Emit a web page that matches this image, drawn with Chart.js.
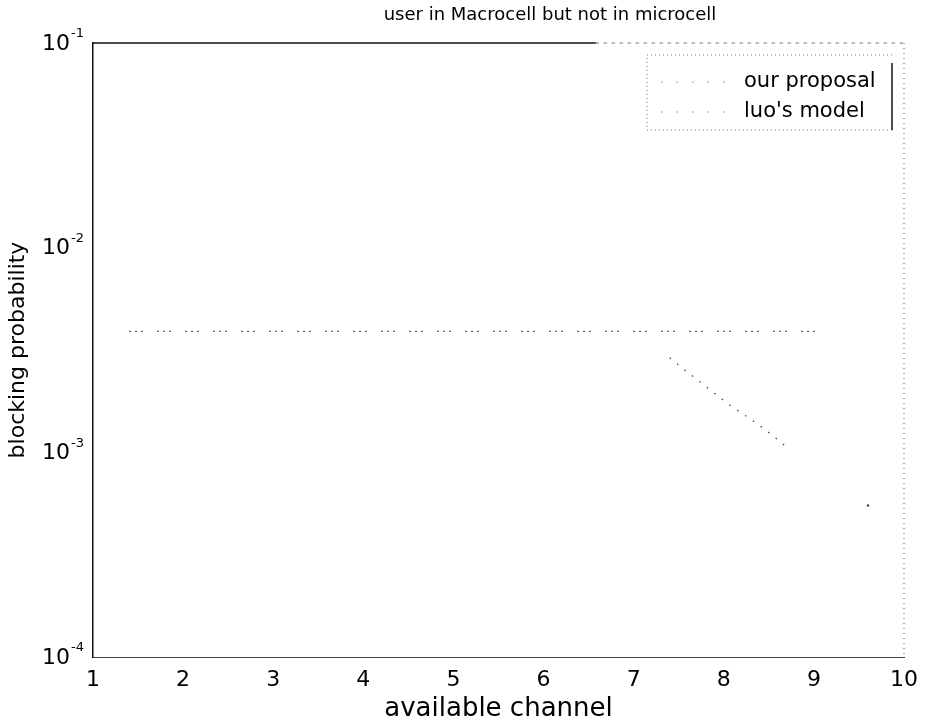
<!DOCTYPE html>
<html><head><meta charset="utf-8">
<script src="https://cdn.jsdelivr.net/npm/chart.js@4"></script>
<style>html,body{margin:0;padding:0;background:#fff}#wrap{width:928px;height:726px;position:relative}</style>
</head><body><div id="wrap"><canvas id="c"></canvas></div>
<script>
// ---- data ----
const chartTitle = 'user in Macrocell but not in microcell';
const xAxisLabel = 'available channel';
const yAxisLabel = 'blocking probability';
const xTicks = [1, 2, 3, 4, 5, 6, 7, 8, 9, 10];
const yTicks = [1e-4, 1e-3, 1e-2, 1e-1];
const yTickExponents = ['-4', '-3', '-2', '-1'];
const seriesNames = ['our proposal', "luo's model"];
const ourX = [1.4, 9.05];
const ourY = [0.0039, 0.0039];
const luoX = [7.4, 7.58, 7.8, 8.05, 8.29, 8.46, 8.56, 8.71, 9.2, 9.6];
const luoY = [0.0029, 0.0025, 0.0021, 0.00172, 0.00146, 0.00129, 0.00119, 0.00105, null, 0.00055];

const FONT = "'DejaVu Sans', 'Liberation Sans', sans-serif";
const toPts = (xs, ys) => xs.map((x, i) => ({x: x, y: ys[i]}));

const framePlugin = {
  id: 'frame',
  afterDraw(chart) {
    const {ctx, chartArea: a} = chart;
    const ys = chart.scales.y;
    ctx.save();
    // title (sits right of centre in the scan)
    ctx.fillStyle = '#000'; ctx.font = '18px ' + FONT;
    ctx.textAlign = 'center'; ctx.textBaseline = 'middle';
    ctx.fillText(chartTitle, 550, 15);
    // y tick labels: 10 with a raised exponent
    yTicks.forEach((v, i) => {
      const py = ys.getPixelForValue(v);
      ctx.font = '13px ' + FONT; ctx.textAlign = 'right'; ctx.textBaseline = 'middle';
      const ew = ctx.measureText(yTickExponents[i]).width;
      ctx.fillText(yTickExponents[i], a.left - 9, py - 9);
      ctx.font = '22px ' + FONT;
      ctx.fillText('10', a.left - 10 - ew, py + 1);
    });
    // top edge: solid on the left, faded on the right
    ctx.strokeStyle = '#111'; ctx.lineWidth = 1.5; ctx.setLineDash([]);
    ctx.beginPath(); ctx.moveTo(a.left, a.top); ctx.lineTo(a.left + 0.62 * (a.right - a.left), a.top); ctx.stroke();
    ctx.strokeStyle = '#666'; ctx.lineWidth = 1; ctx.setLineDash([3, 5]);
    ctx.beginPath(); ctx.moveTo(a.left + 0.62 * (a.right - a.left), a.top); ctx.lineTo(a.right, a.top); ctx.stroke();
    // right edge (faded in the scan)
    ctx.strokeStyle = '#555'; ctx.lineWidth = 1; ctx.setLineDash([1, 4]);
    ctx.beginPath(); ctx.moveTo(a.right, a.top); ctx.lineTo(a.right, a.bottom); ctx.stroke();
    // legend box
    const bx = 647, by = 55, bw = 245, bh = 75;
    ctx.setLineDash([1, 3]); ctx.strokeStyle = '#777';
    ctx.beginPath();
    ctx.moveTo(bx + bw, by); ctx.lineTo(bx, by); ctx.lineTo(bx, by + bh); ctx.lineTo(bx + bw, by + bh);
    ctx.stroke();
    ctx.setLineDash([]); ctx.strokeStyle = '#111'; ctx.lineWidth = 1.5;
    ctx.beginPath(); ctx.moveTo(bx + bw, by + 8); ctx.lineTo(bx + bw, by + bh); ctx.stroke();
    ctx.font = '21px ' + FONT; ctx.fillStyle = '#000';
    ctx.textBaseline = 'middle'; ctx.textAlign = 'left';
    chart.data.datasets.forEach((ds, i) => {
      const y = by + 27 + i * 30;
      ctx.strokeStyle = '#888'; ctx.lineWidth = 1;
      ctx.setLineDash([1.5, 14]);
      ctx.beginPath(); ctx.moveTo(bx + 14, y); ctx.lineTo(bx + 88, y); ctx.stroke();
      ctx.setLineDash([]);
      ctx.fillText(ds.label, bx + 97, y);
    });
    ctx.restore();
  }
};

new Chart(document.getElementById('c'), {
  type: 'line',
  data: {
    datasets: [
      {label: seriesNames[0], data: toPts(ourX, ourY), borderColor: '#666', borderWidth: 1.2,
       borderDash: [2, 4, 2, 4, 2, 14], pointRadius: 0, spanGaps: false, tension: 0},
      {label: seriesNames[1], data: toPts(luoX, luoY), borderColor: '#444', borderWidth: 1.3,
       borderDash: [1.5, 8], pointRadius: luoY.map((v, i) => i === luoY.length - 1 ? 1.2 : 0),
       pointBackgroundColor: '#444', pointBorderWidth: 0, spanGaps: false, tension: 0}
    ]
  },
  options: {
    responsive: true, maintainAspectRatio: false, animation: false, devicePixelRatio: 1,
    layout: {padding: {left: 0, right: 21, top: 43, bottom: 0}},
    plugins: {
      legend: {display: false},
      tooltip: {enabled: false},
      title: {display: false}
    },
    scales: {
      x: {
        type: 'linear', min: 1, max: 10,
        afterBuildTicks: s => { s.ticks = xTicks.map(v => ({value: v})); },
        afterFit: s => { s.height = 69; },
        grid: {display: true, drawOnChartArea: false, drawTicks: false},
        border: {display: true, color: '#444', width: 1, dash: [2, 5]},
        ticks: {color: '#000', padding: 10, font: {family: FONT, size: 22}, maxRotation: 0,
                callback: v => String(v)},
        title: {display: true, text: xAxisLabel, color: '#000',
                font: {family: FONT, size: 26}, padding: {top: 0, bottom: 1}}
      },
      y: {
        type: 'logarithmic', min: 1e-4, max: 1e-1,
        afterBuildTicks: s => { s.ticks = yTicks.map(v => ({value: v})); },
        afterFit: s => { s.width = 93; },
        grid: {display: true, drawOnChartArea: false, drawTicks: false},
        border: {display: true, color: '#111', width: 1.5},
        ticks: {display: false},
        title: {display: true, text: yAxisLabel, color: '#000',
                font: {family: FONT, size: 22}, padding: {top: 5, bottom: 0}}
      }
    }
  },
  plugins: [framePlugin]
});
</script></body></html>
